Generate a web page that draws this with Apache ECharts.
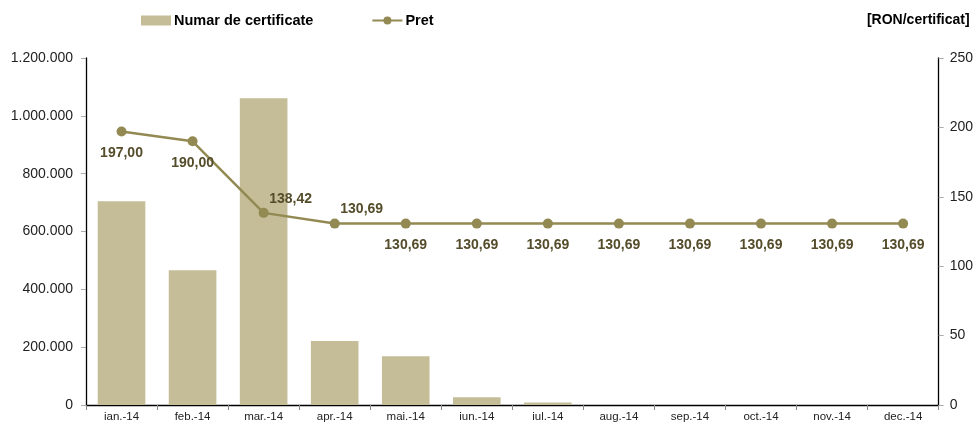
<!DOCTYPE html>
<html><head><meta charset="utf-8">
<script src="https://cdn.jsdelivr.net/npm/echarts@6/dist/echarts.min.js"></script>
<style>html,body{margin:0;padding:0;background:#fff}#c{width:976px;height:426px}</style>
</head><body><div id="c"></div>
<script>
const categories = ['ian.-14','feb.-14','mar.-14','apr.-14','mai.-14','iun.-14','iul.-14','aug.-14','sep.-14','oct.-14','nov.-14','dec.-14'];
const certificates = [705000, 466000, 1061000, 221000, 169000, 27000, 9000, 0, 0, 0, 0, 0];
const price = [197.00, 190.00, 138.42, 130.69, 130.69, 130.69, 130.69, 130.69, 130.69, 130.69, 130.69, 130.69];

const FONT = 'Liberation Sans, Arial, sans-serif';
const fmtThousands = v => String(v).replace(/\B(?=(\d{3})+(?!\d))/g, '.');
const fmtPrice = v => v.toFixed(2).replace('.', ',');

const aboveIdx = [2, 3];
const priceData = price.map((v, i) => {
  const above = aboveIdx.includes(i);
  return { value: v, label: { position: above ? 'top' : 'bottom', offset: above ? [27, 6] : [0, 2] } };
});

const chart = echarts.init(document.getElementById('c'));
chart.setOption({
  animation: false,
  textStyle: { fontFamily: FONT },
  legend: {
    top: 8, left: 136, itemGap: 58,
    textStyle: { fontFamily: FONT, fontWeight: 'bold', fontSize: 14.5, color: '#000', padding: [0, 0, 0, -2] },
    itemWidth: 30, itemHeight: 10,
    data: [
      { name: 'Numar de certificate', icon: 'rect' },
      { name: 'Pret' }
    ]
  },
  grid: { left: 86, right: 33, top: 58, bottom: 21 },
  xAxis: {
    type: 'category', data: categories,
    axisLine: { lineStyle: { color: '#000', width: 1.3 } },
    axisTick: { show: true, length: 5, lineStyle: { color: '#888' } },
    axisLabel: { fontFamily: FONT, fontSize: 11.5, color: '#222', margin: 6 }
  },
  yAxis: [
    {
      type: 'value', min: 0, max: 1200000, interval: 200000,
      axisLine: { show: true, lineStyle: { color: '#000', width: 1.3 } },
      axisTick: { show: true, length: 5, lineStyle: { color: '#aaa' } },
      splitLine: { show: false },
      axisLabel: { fontFamily: FONT, fontSize: 14, color: '#222', margin: 13, formatter: fmtThousands }
    },
    {
      type: 'value', min: 0, max: 250, interval: 50,
      name: '[RON/certificat]', nameLocation: 'end', nameGap: 31,
      nameTextStyle: { fontFamily: FONT, fontWeight: 'bold', fontSize: 14, color: '#000', align: 'right', padding: [0, -31, 0, 0] },
      axisLine: { show: true, lineStyle: { color: '#000', width: 1.3 } },
      axisTick: { show: true, length: 5, lineStyle: { color: '#aaa' } },
      splitLine: { show: false },
      axisLabel: { fontFamily: FONT, fontSize: 14, color: '#222', margin: 11 }
    }
  ],
  series: [
    {
      name: 'Numar de certificate', type: 'bar', yAxisIndex: 0,
      data: certificates, barCategoryGap: '33%',
      itemStyle: { color: '#c4bd97' }
    },
    {
      name: 'Pret', type: 'line', yAxisIndex: 1,
      data: priceData,
      symbol: 'circle', symbolSize: 10,
      lineStyle: { color: '#938953', width: 2.5 },
      itemStyle: { color: '#938953' },
      label: {
        show: true, fontFamily: FONT, fontWeight: 'bold', fontSize: 14, color: '#544c2a',
        distance: 8,
        formatter: p => fmtPrice(p.value)
      }
    }
  ]
});
</script></body></html>
